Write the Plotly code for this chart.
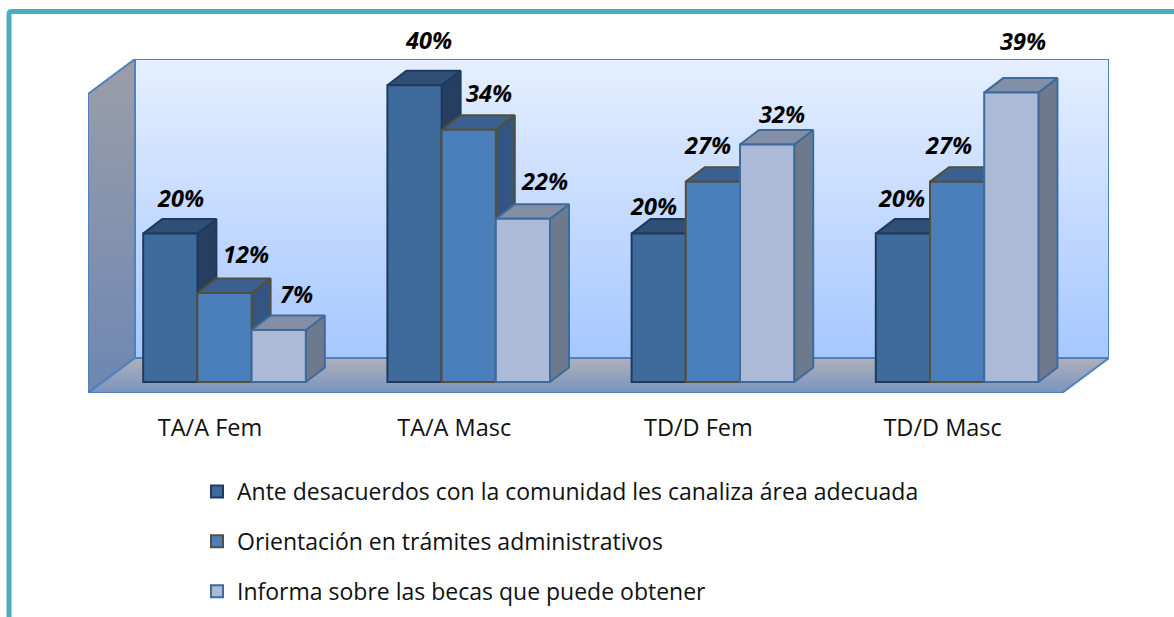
import plotly.graph_objects as go

categories = ["TA/A Fem", "TA/A Masc", "TD/D Fem", "TD/D Masc"]
series_names = [
    "Ante desacuerdos con la comunidad les canaliza área adecuada",
    "Orientación en trámites administrativos",
    "Informa sobre las becas que puede obtener",
]
canaliza = [20, 40, 20, 20]
orientacion = [12, 34, 27, 27]
becas = [7, 22, 32, 39]
series_values = [canaliza, orientacion, becas]

# style
front = ["#3e6a9c", "#4b7fbb", "#abbad6"]
edge = ["#1e3a5f", "#544f3c", "#3f6a9c"]
top = ["#2f4f76", "#3a6090", "#838fa6"]
side = ["#263f60", "#335581", "#6d7a8d"]
label_font = "Open Sans"

W, H = 1174, 617
PL, PR, PT, PB = 88, 1109, 59, 393   # plot area in page pixels
PX_X = 244.2    # pixels per category
PX_Y = 7.42     # pixels per percentage point
Y0_PX = 382     # pixel of value 0
X0_PX = 224.5   # pixel of first category centre
xr = [(PL - X0_PX) / PX_X, (PR - X0_PX) / PX_X]
yr = [(Y0_PX - PB) / PX_Y, (Y0_PX - PT) / PX_Y]
bw = 54.2 / PX_X
ddx, ddy = 19 / PX_X, 14.5 / PX_Y          # bar depth
wdx, wdy = 47 / PX_X, 35 / PX_Y            # chamber depth

fig = go.Figure()


def poly(xs, ys, color=None, line="#4f81bd", lw=2, grad=None):
    kw = dict(
        x=xs + xs[:1], y=ys + ys[:1], mode="lines", fill="toself", cliponaxis=False,
        line=dict(color=line, width=lw), hoverinfo="skip", showlegend=False,
    )
    if grad:
        kw["fillgradient"] = dict(type="vertical", colorscale=[[0, grad[0]], [1, grad[1]]])
    else:
        kw["fillcolor"] = color
    fig.add_trace(go.Scatter(**kw))


# chamber
xa, xb = xr
ya, yb = yr
poly([xa + wdx, xb, xb, xa + wdx], [ya + wdy, ya + wdy, yb, yb],
     grad=("#a6c7ff", "#e5efff"))
poly([xa, xa + wdx, xa + wdx, xa], [ya, ya + wdy, yb, yb - wdy],
     grad=("#6d87b3", "#9b9ea8"))
poly([xa, xb - wdx, xb, xa + wdx], [ya, ya, ya + wdy, ya + wdy],
     grad=("#7a93bf", "#aeb1ba"))

# bar depth faces, back to front inside each group
for i in range(len(categories)):
    for j, vals in enumerate(series_values):
        v = vals[i]
        x0 = i + (j - 1.5) * bw
        x1 = x0 + bw
        poly([x1, x1 + ddx, x1 + ddx, x1], [0, ddy, v + ddy, v], color=side[j], line=edge[j])
        poly([x0, x1, x1 + ddx, x0 + ddx], [v, v, v + ddy, v + ddy], color=top[j], line=edge[j])

# bar fronts on an overlaid subplot
for j, vals in enumerate(series_values):
    fig.add_trace(go.Bar(
        x=list(range(len(categories))), y=vals, name=series_names[j],
        xaxis="x2", yaxis="y2", legendgroup=f"g{j}",
        marker=dict(color=front[j], line=dict(color=edge[j], width=2)),
        hovertemplate="%{y}%<extra></extra>",
    ))

# hand-placed data labels, as in the reference (pixel shifts from bar top centre)
label_shift = [
    [(10, 36), (14, 45), (-5, 28), (-1, 36)],
    [(21, 39), (20, 37), (-5, 37), (-9, 37)],
    [(18, 36), (22, 38), (15, 31), (12, 52)],
]
for j, vals in enumerate(series_values):
    for i, v in enumerate(vals):
        sx, sy = label_shift[j][i]
        fig.add_annotation(
            x=i + (j - 1) * bw, y=v, xref="x2", yref="y2", text=f"<b><i>{v}%</i></b>",
            showarrow=False, xshift=sx, yshift=sy, xanchor="center", yanchor="middle",
            font=dict(family=label_font, size=23.5, color="#000000"),
        )


# page pixels to paper fractions (margins are zero, so paper is the whole page)
def px(x):
    return x / W


def py(y):
    return 1 - y / H


# outer frame
fig.add_shape(
    type="path", xref="paper", yref="paper",
    path=f"M {px(9)} {py(620)} L {px(9)} {py(14)} Q {px(9)} {py(11.5)} {px(12)} {py(11.5)} L {px(1180)} {py(11.5)}",
    line=dict(color="#4bacc6", width=5),
)

axis_common = dict(showgrid=False, zeroline=False)
xdom = [px(PL), px(PR)]
ydom = [py(PB), py(PT)]
fig.update_layout(
    width=W, height=H, autosize=False,
    margin=dict(l=0, r=0, t=0, b=0, pad=0),
    paper_bgcolor="#ffffff", plot_bgcolor="rgba(0,0,0,0)",
    barmode="group", bargap=1 - 3 * bw, bargroupgap=0,
    font=dict(family=label_font, color="#000000"),
    xaxis=dict(
        domain=xdom, range=xr, tickmode="array",
        tickvals=[i - 14.5 / PX_X for i in range(len(categories))],
        ticktext=categories, ticks="", showline=False, ticklabelstandoff=18,
        automargin=False,
        tickfont=dict(family=label_font, size=23.5, color="#111111"), **axis_common,
    ),
    yaxis=dict(domain=ydom, range=yr, visible=False, **axis_common),
    xaxis2=dict(domain=xdom, range=xr, overlaying="x", visible=False, **axis_common),
    yaxis2=dict(domain=ydom, range=yr, overlaying="y", visible=False, **axis_common),
    legend=dict(
        x=px(197), y=py(470), xanchor="left", yanchor="top",
        font=dict(family=label_font, size=23, color="#111111"),
        tracegroupgap=17, bgcolor="rgba(0,0,0,0)", borderwidth=0,
    ),
    showlegend=True,
)

fig.write_html(
    "out.html",
    post_script="document.body.style.margin='0';document.body.style.overflow='hidden';",
    config={"displayModeBar": False},
)
